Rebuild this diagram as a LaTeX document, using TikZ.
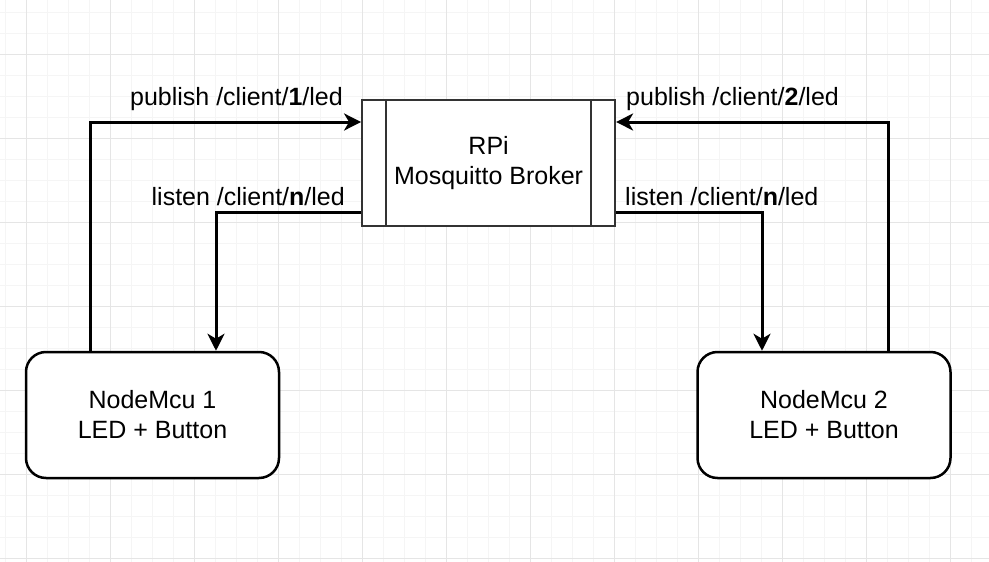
\documentclass[tikz,border=0pt]{standalone}
\usepackage{fontspec}
\setmainfont{Liberation Sans}
\usetikzlibrary{arrows.meta}

\begin{document}
\begin{tikzpicture}[x=1pt,y=-1pt,
    minor/.style={line width=1pt,draw=black!4},
    major/.style={line width=1pt,draw=black!10},
    mcu/.style={draw,fill=white,line width=2.5pt,rounded corners=20pt,minimum width=253pt,minimum height=126pt,inner sep=0pt,align=center,font=\fontsize{25}{30}\selectfont},
    brokerbox/.style={draw=black!80,fill=white,line width=2pt,minimum width=253pt,minimum height=126pt,inner sep=0pt,align=center,font=\fontsize{25}{30}\selectfont},
    flow/.style={line width=3pt,-{Stealth[length=17pt,width=17pt,inset=5pt]}},
    lbl/.style={inner sep=0pt,font=\fontsize{25}{30}\selectfont}]
    \useasboundingbox (0,0) rectangle (989,562);

    % grid
    \foreach \i in {0,...,47} {\draw[minor] ({5.3+21*\i},0) -- ({5.3+21*\i},562);}
    \foreach \j in {0,...,26} {\draw[minor] (0,{12+21*\j}) -- (989,{12+21*\j});}
    \foreach \i in {0,...,11} {\draw[major] ({26.3+84*\i},0) -- ({26.3+84*\i},562);}
    \foreach \j in {0,...,6} {\draw[major] (0,{54+84*\j}) -- (989,{54+84*\j});}

    \node[brokerbox] (broker) at (488.6,163) {RPi\\Mosquitto Broker};
    \draw[draw=black!80,line width=2pt] ([xshift=25pt]broker.north west) -- ([xshift=25pt]broker.south west);
    \draw[draw=black!80,line width=2pt] ([xshift=-25pt]broker.north east) -- ([xshift=-25pt]broker.south east);

    \node[mcu] (mcu1) at (152.5,415) {NodeMcu 1\\LED + Button};
    \node[mcu] (mcu2) at (824,415) {NodeMcu 2\\LED + Button};

    \draw[flow] ([xshift=-62.5pt]mcu1.north) |- ([yshift=41pt]broker.west);
    \draw[flow] ([yshift=-49pt]broker.west) -| ([xshift=63.5pt]mcu1.north);
    \draw[flow] ([xshift=64pt]mcu2.north) |- ([yshift=41pt]broker.east);
    \draw[flow] ([yshift=-49pt]broker.east) -| ([xshift=-62pt]mcu2.north);

    \node[lbl,anchor=east] (pub1) at (343,99) {publish /client/\textbf{1}/led};
    \node[lbl,anchor=east] (lis1) at (345,197) {listen /client/\textbf{n}/led};
    \node[lbl,anchor=west] (pub2) at (626,99) {publish /client/\textbf{2}/led};
    \node[lbl,anchor=west] (lis2) at (625,197) {listen /client/\textbf{n}/led};
\end{tikzpicture}
\end{document}
